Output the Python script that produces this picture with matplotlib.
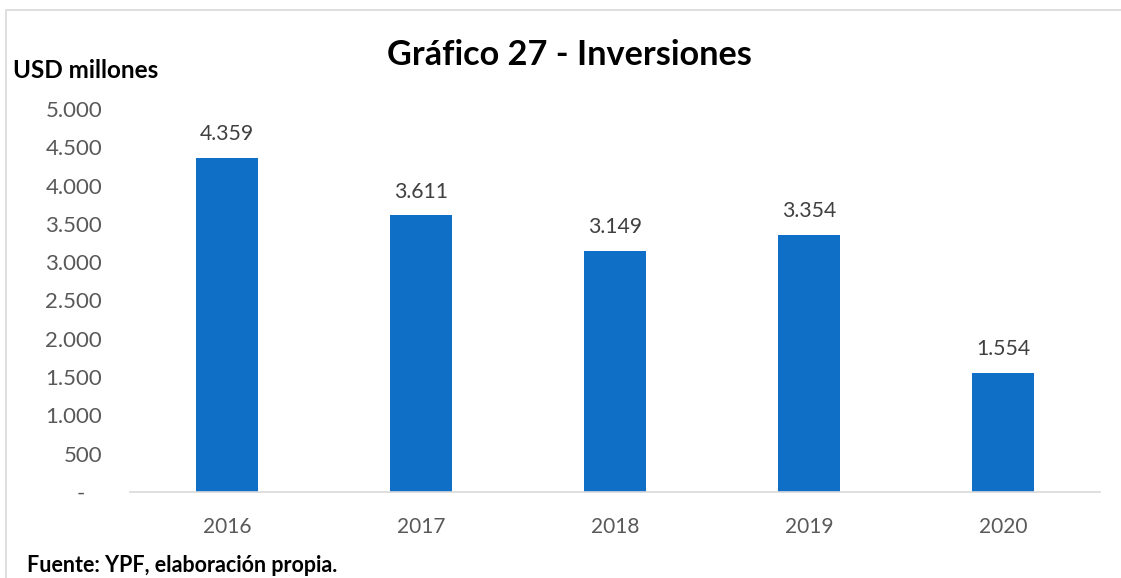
import matplotlib.pyplot as plt
from matplotlib.patches import Rectangle

# Datos
years = ['2016', '2017', '2018', '2019', '2020']
inversiones = [4359, 3611, 3149, 3354, 1554]
yticks = [0, 500, 1000, 1500, 2000, 2500, 3000, 3500, 4000, 4500, 5000]

plt.rcParams['font.family'] = ['Lato', 'DejaVu Sans']

W, H = 1121, 578
fig = plt.figure(figsize=(W / 100, H / 100), dpi=100)
ax = fig.add_axes([130 / W, 1 - 492 / H, 970 / W, 383 / H])

x = range(len(years))
bars = ax.bar(x, inversiones, width=0.315, color='#0F6FC6')

def fmt(v):
    # formato contable: cero se muestra como guion
    return '-   ' if v == 0 else f'{v:,}'.replace(',', '.')

for xi, v in zip(x, inversiones):
    ax.text(xi, v + 180, fmt(v), ha='center', va='bottom', fontsize=15.3, color='#404040')

ax.set_xlim(-0.5, len(years) - 0.5)
ax.set_ylim(0, 5000)
ax.set_xticks(list(x))
ax.set_xticklabels(years, fontsize=15, color='#595959')
ax.set_yticks(yticks)
ax.set_yticklabels([fmt(v) for v in yticks], fontsize=16, color='#595959')
ax.tick_params(axis='both', length=0)
ax.tick_params(axis='x', pad=18)
ax.tick_params(axis='y', pad=20)

for s in ['top', 'right', 'left']:
    ax.spines[s].set_visible(False)
ax.spines['bottom'].set_color('#D9D9D9')
ax.spines['bottom'].set_linewidth(1.2)

fig.text(569 / W, 1 - 55 / H, 'Gráfico 27 - Inversiones', ha='center', va='center',
         fontsize=24.7, fontweight='bold', color='black')
fig.text(13 / W, 1 - 71 / H, 'USD millones', ha='left', va='center',
         fontsize=17.5, fontweight='bold', color='black')
fig.text(27 / W, 1 - 566 / H, 'Fuente: YPF, elaboración propia.', ha='left', va='center',
         fontsize=15.5, fontweight='bold', color='black')

# Marco del gráfico
fig.patches.append(Rectangle((6 / W, -0.1), 1.2, 1 - 10 / H + 0.1, transform=fig.transFigure,
                             fill=False, edgecolor='#D9D9D9', linewidth=1.2))

fig.savefig('out.png', dpi=100)
